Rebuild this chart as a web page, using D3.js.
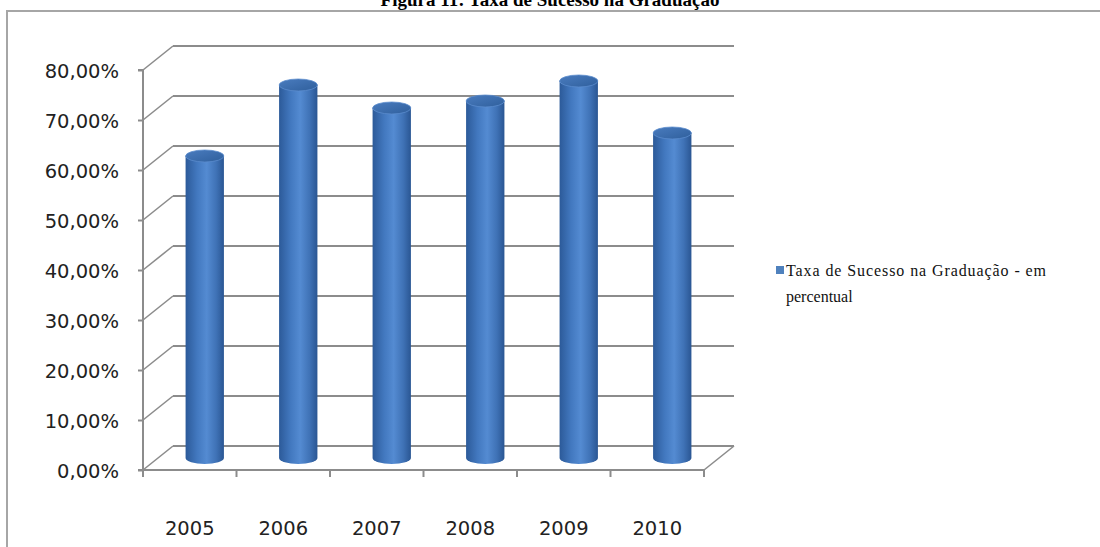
<!DOCTYPE html>
<html><head><meta charset="utf-8">
<script src="https://cdn.jsdelivr.net/npm/d3@7"></script>
<style>
html,body{margin:0;padding:0;background:#fff;}
svg{display:block;}
</style></head>
<body>
<svg id="c" width="1100" height="547"></svg>
<script>
const title = "Figura 11: Taxa de Sucesso na Graduação";
const categories = ["2005","2006","2007","2008","2009","2010"];
const values = [0.604, 0.746, 0.700, 0.714, 0.754, 0.650];
const yTicks = [0,0.1,0.2,0.3,0.4,0.5,0.6,0.7,0.8];
const seriesName = ["Taxa de Sucesso na Graduação - em", "percentual"];

const svg = d3.select("#c");

// frame
svg.append("rect").attr("x",7).attr("y",11).attr("width",1200).attr("height",700)
  .attr("fill","none").attr("stroke","#a6a6a6").attr("stroke-width",2);

// title (partially cut at top, as in the reference)
svg.append("text").attr("x",550).attr("y",6).attr("text-anchor","middle")
  .attr("font-family","'Liberation Serif','Times New Roman',serif").attr("font-weight","bold")
  .attr("font-size",19).attr("fill","#000").text(title);

const x0 = 143, x1 = 704;
const DX = 30, DY = -24;
const x = d3.scaleBand().domain(categories).range([x0, x1]).padding(0);
const y = d3.scaleLinear().domain([0, 0.8]).range([470, 70]);
const ptBR = d3.formatLocale({decimal:",", thousands:".", grouping:[3], currency:["R$",""]});
const fmt = ptBR.format(".2%");

const gridColor = "#8c8c8c";
const g = svg.append("g");

// back wall gridlines + side wall diagonals
yTicks.forEach(t => {
  const yy = y(t);
  g.append("line").attr("x1", x0+DX).attr("x2", x1+DX).attr("y1", yy+DY).attr("y2", yy+DY)
    .attr("stroke", gridColor).attr("stroke-width",2);
  g.append("line").attr("x1", x0).attr("y1", yy).attr("x2", x0+DX).attr("y2", yy+DY)
    .attr("stroke", gridColor).attr("stroke-width",1.6);
});
g.append("line").attr("x1", x1).attr("y1", y(0)).attr("x2", x1+DX).attr("y2", y(0)+DY)
  .attr("stroke", gridColor).attr("stroke-width",1.6);

// y axis (front)
const yAxis = d3.axisLeft(y).tickValues(yTicks).tickFormat(fmt).tickSize(5).tickPadding(19);
const ya = svg.append("g").attr("transform",`translate(${x0},0)`).call(yAxis);
ya.select(".domain").attr("stroke", gridColor).attr("stroke-width",2).attr("d", `M-5,${y(0)}H0V${y(0.8)}H-5`);
ya.selectAll(".tick line").attr("stroke", gridColor).attr("stroke-width",2);
ya.selectAll("text").attr("font-family","'DejaVu Sans',Verdana,sans-serif").attr("font-size",19.5)
  .attr("fill","#222").attr("dy","0.36em");

// x axis (front)
const xAxis = d3.axisBottom(x).tickSize(0).tickPadding(58);
const xa = svg.append("g").attr("transform",`translate(0,${y(0)})`).call(xAxis);
xa.select(".domain").attr("stroke", gridColor).attr("stroke-width",2).attr("d", `M${x0},0H${x1}`);
xa.selectAll("text").attr("font-family","'DejaVu Sans',Verdana,sans-serif").attr("font-size",19.5)
  .attr("fill","#222").attr("dy","0.36em");
const bounds = categories.map(c => x(c)).concat([x1]);
xa.selectAll(".bt").data(bounds).enter().append("line")
  .attr("x1", d=>d).attr("x2", d=>d).attr("y1",0).attr("y2",7)
  .attr("stroke", gridColor).attr("stroke-width",2);

// gradients
const defs = svg.append("defs");
const gr = defs.append("linearGradient").attr("id","body").attr("x1","0").attr("x2","1").attr("y1","0").attr("y2","0");
[["0%","#2c5a99"],["30%","#4278bf"],["55%","#548bd2"],["80%","#3f72b6"],["100%","#2a5693"]]
  .forEach(s => gr.append("stop").attr("offset",s[0]).attr("stop-color",s[1]));
const gt = defs.append("linearGradient").attr("id","top").attr("x1","0").attr("x2","1").attr("y1","0").attr("y2","1");
[["0%","#4a7cbf"],["100%","#2f5f9c"]].forEach(s => gt.append("stop").attr("offset",s[0]).attr("stop-color",s[1]));

// cylinders
const bw = x.bandwidth()*0.41;
const rx = bw/2, ry = 6;
const bars = svg.append("g");
categories.forEach((c,i) => {
  const cx = x(c) + x.bandwidth()/2 + DX/2;
  const yb = y(0) + DY/2;
  const yt = y(values[i]) + DY/2;
  bars.append("path")
    .attr("d", `M${cx-rx},${yt} L${cx-rx},${yb} A${rx},${ry} 0 0 0 ${cx+rx},${yb} L${cx+rx},${yt} Z`)
    .attr("fill","url(#body)");
  bars.append("ellipse").attr("cx",cx).attr("cy",yt).attr("rx",rx).attr("ry",ry)
    .attr("fill","url(#top)").attr("stroke","#5a8ccd").attr("stroke-width",0.8);
});

// legend
const lg = svg.append("g");
lg.append("rect").attr("x",776).attr("y",266).attr("width",8).attr("height",8).attr("fill","#4f81bd");
const lt = lg.append("text").attr("font-family","'Liberation Serif','Times New Roman',serif")
  .attr("font-size",16).attr("fill","#111");
lt.append("tspan").attr("x",786).attr("y",276).attr("textLength",260).attr("lengthAdjust","spacing").text(seriesName[0]);
lt.append("tspan").attr("x",786).attr("y",302).text(seriesName[1]);
</script>
</body></html>
